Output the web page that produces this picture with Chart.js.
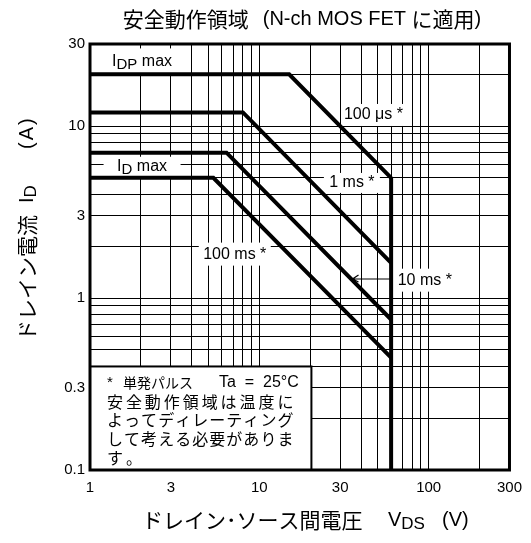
<!DOCTYPE html>
<html><head><meta charset="utf-8">
<script src="https://cdn.jsdelivr.net/npm/chart.js@4/dist/chart.umd.min.js"></script>
<style>html,body{margin:0;padding:0;background:#fff}</style>
</head><body>
<canvas id="c" width="531" height="543"></canvas>
<script>
// ---- data ----
const xTicks = [1,2,3,4,5,6,7,8,9,10,20,30,40,50,60,70,80,90,100,200,300];
const xLabels = [1,3,10,30,100,300];
const yTicks = [0.1,0.2,0.3,0.4,0.5,0.6,0.7,0.8,0.9,1,2,3,4,5,6,7,8,9,10,20,30];
const yLabels = [0.1,0.3,1,3,10,30];

const v100us = [1, 15, 60];   const i100us = [20, 20, 5];
const v1ms   = [1, 8, 60];    const i1ms   = [12, 12, 1.6];
const v10ms  = [1, 6.4, 60];  const i10ms  = [7, 7, 0.75];
const v100ms = [1, 5.35, 60]; const i100ms = [5, 5, 0.45];
const vLimit = [60, 60];      const iLimit = [5, 0.1];

const pts = (vs, is) => vs.map((v, k) => ({x: v, y: is[k]}));

const LAT = "'Liberation Sans', Arial, sans-serif";
const CJK = "'Noto Sans CJK JP', sans-serif";

// label anchors in data coordinates
const labels = [
  {segs:[{t:'I',s:16},{t:'DP',s:15,dy:3},{t:' max',s:16}], x:2.03, y:23.6, w:80, h:27},
  {segs:[{t:'I',s:16},{t:'D',s:15,dy:3},{t:' max',s:16}], x:2.03, y:5.8, w:77, h:20},
  {segs:[{t:'100 μs *',s:16}], x:47.2, y:11.6, w:64, h:22},
  {segs:[{t:'1 ms *',s:16}], x:35.2, y:4.67, w:56, h:20},
  {segs:[{t:'100 ms *',s:16}], x:7.16, y:1.8, w:72, h:23},
  {segs:[{t:'10 ms *',s:16}], x:94.8, y:1.27, w:63, h:23},
];
const arrow = {x0:61, x1:35.5, y:1.29};
const noteBox = {x0:1, x1:20.3, y0:0.1, y1:0.4};

function segWidth(ctx, segs){
  let w = 0;
  for (const s of segs){ if (s.gap){w+=s.gap;continue;} ctx.font = s.s+'px '+(s.cjk?CJK:LAT); w += ctx.measureText(s.t).width; }
  return w;
}
function drawSegs(ctx, x, y, segs){
  ctx.textBaseline = 'middle'; ctx.textAlign = 'left'; ctx.fillStyle = '#000';
  const x0 = x;
  for (const s of segs){
    if (s.gap){x+=s.gap;continue;}
    if (s.at !== undefined) x = x0 + s.at;
    ctx.font = s.s+'px '+(s.cjk?CJK:LAT);
    ctx.fillText(s.t, x, y + (s.dy||0));
    x += ctx.measureText(s.t).width;
  }
}
function justify(ctx, text, left, right, y, size, pitch){
  ctx.font = size+'px '+CJK; ctx.textBaseline='middle'; ctx.textAlign='left'; ctx.fillStyle='#000';
  const chars = [...text];
  const p = pitch || (right - left - size) / (chars.length - 1);
  chars.forEach((c, k) => ctx.fillText(c, left + k*p, y));
  return p;
}
function spread(ctx, text, x, y, size, pitch){
  ctx.font = size+'px '+LAT; ctx.textBaseline='middle'; ctx.textAlign='left'; ctx.fillStyle='#000';
  for (const c of text){ ctx.fillText(c, x, y); x += ctx.measureText(c).width + pitch; }
}

const annot = {
  id: 'annot',
  beforeDatasetsDraw(chart){
    const {ctx, scales:{x, y}} = chart;
    ctx.save();
    ctx.fillStyle = '#fff';
    for (const L of labels){
      const cx = x.getPixelForValue(L.x), cy = y.getPixelForValue(L.y);
      ctx.fillRect(cx - L.w/2, cy - L.h/2, L.w, L.h);
    }
    const bx0 = x.getPixelForValue(noteBox.x0), bx1 = x.getPixelForValue(noteBox.x1);
    const by0 = y.getPixelForValue(noteBox.y0), by1 = y.getPixelForValue(noteBox.y1);
    ctx.fillRect(bx0, by1, bx1-bx0, by0-by1);
    ctx.restore();
  },
  afterDatasetsDraw(chart){
    const {ctx, chartArea:a, scales:{x, y}} = chart;
    ctx.save();
    // labels
    for (const L of labels){
      const cx = x.getPixelForValue(L.x), cy = y.getPixelForValue(L.y);
      const w = segWidth(ctx, L.segs);
      drawSegs(ctx, cx - w/2, cy, L.segs);
    }
    // arrow
    const ax0 = x.getPixelForValue(arrow.x0), ax1 = x.getPixelForValue(arrow.x1), ay = y.getPixelForValue(arrow.y);
    ctx.strokeStyle = '#000'; ctx.lineWidth = 1.2;
    ctx.beginPath(); ctx.moveTo(ax0, ay); ctx.lineTo(ax1, ay);
    ctx.moveTo(ax1+6, ay-4); ctx.lineTo(ax1, ay); ctx.lineTo(ax1+6, ay+3);
    ctx.stroke();
    // note box
    const bx0 = x.getPixelForValue(noteBox.x0), bx1 = x.getPixelForValue(noteBox.x1);
    const by0 = y.getPixelForValue(noteBox.y0), by1 = y.getPixelForValue(noteBox.y1);
    ctx.lineWidth = 2;
    ctx.strokeRect(bx0, by1, bx1-bx0, by0-by1);
    const tl = bx0 + 17, tr = bx1 - 18;
    drawSegs(ctx, tl, by1 + 16, [{t:'*',s:15}]);
    drawSegs(ctx, tl + 16, by1 + 16, [{t:'単発パルス',s:14,cjk:true}]);
    drawSegs(ctx, tl + 112, by1 + 16, [{t:'Ta  =  25°C',s:16}]);
    const p = justify(ctx, '安全動作領域は温度に', tl, tr, by1 + 35, 16);
    justify(ctx, 'よってディレーティング', tl, tr, by1 + 53.5, 16);
    justify(ctx, 'して考える必要がありま', tl, tr, by1 + 72, 16);
    justify(ctx, 'す。', tl, tr, by1 + 91, 16, p);
    // frame
    ctx.lineWidth = 3;
    ctx.strokeRect(a.left, a.top, a.right - a.left, a.bottom - a.top);
    // chart title
    const tSegs = [{t:'安全動作領域',s:21,cjk:true},{gap:14},{t:'(N-ch MOS FET ',s:20},{t:'に適用',s:21,cjk:true},{t:')',s:20}];
    const tw = segWidth(ctx, tSegs);
    drawSegs(ctx, 302 - tw/2, 19, tSegs);
    // x axis title
    drawSegs(ctx, 142, 520, [{t:'ドレイン･ソース間電圧',s:21,cjk:true},{at:246,t:'V',s:20},{t:'DS',s:17,dy:4},{at:300,t:'(V)',s:20}]);
    // y axis title
    ctx.translate(27, 341); ctx.rotate(-Math.PI/2);
    drawSegs(ctx, 0, 0, [{t:'ドレイン電流',s:21,cjk:true},{at:138,t:'I',s:20},{t:'D',s:17,dy:4}]);
    spread(ctx, '(A)', 192, 0, 20, 2);
    ctx.restore();
  }
};

const ds = (label, data) => ({label, data, borderColor:'#000', borderWidth:4, pointRadius:0, showLine:true, fill:false, tension:0, borderCapStyle:'butt', borderJoinStyle:'miter'});

new Chart(document.getElementById('c'), {
  type: 'scatter',
  data: { datasets: [
    ds('100 μs', pts(v100us, i100us)),
    ds('1 ms', pts(v1ms, i1ms)),
    ds('10 ms', pts(v10ms, i10ms)),
    ds('100 ms', pts(v100ms, i100ms)),
    ds('VDSS', pts(vLimit, iLimit)),
  ]},
  options: {
    responsive: false, animation: false, devicePixelRatio: 1,
    layout: { padding: {top: 44, right: 14, left: 0, bottom: 0} },
    plugins: { legend: {display:false}, tooltip: {enabled:false}, title: {display:false} },
    scales: {
      x: {
        type: 'logarithmic', min: 1, max: 300,
        afterBuildTicks: s => { s.ticks = xTicks.map(v => ({value: v})); },
        afterFit: s => { s.height = 73; },
        ticks: { autoSkip:false, maxRotation:0, padding: 9, color:'#000', font:{family:LAT, size:15},
          callback: v => xLabels.includes(v) ? String(v) : '' },
        grid: { color:'#000', lineWidth:1, drawTicks:false, tickLength:0 },
        border: { display:false }
      },
      y: {
        type: 'logarithmic', min: 0.1, max: 30,
        afterBuildTicks: s => { s.ticks = yTicks.map(v => ({value: v})); },
        afterFit: s => { s.width = 90; },
        ticks: { autoSkip:false, padding: 5, color:'#000', font:{family:LAT, size:15},
          callback: v => yLabels.includes(v) ? String(v) : '' },
        grid: { color:'#000', lineWidth:1, drawTicks:false, tickLength:0 },
        border: { display:false }
      }
    }
  },
  plugins: [annot]
});
</script>
</body></html>
